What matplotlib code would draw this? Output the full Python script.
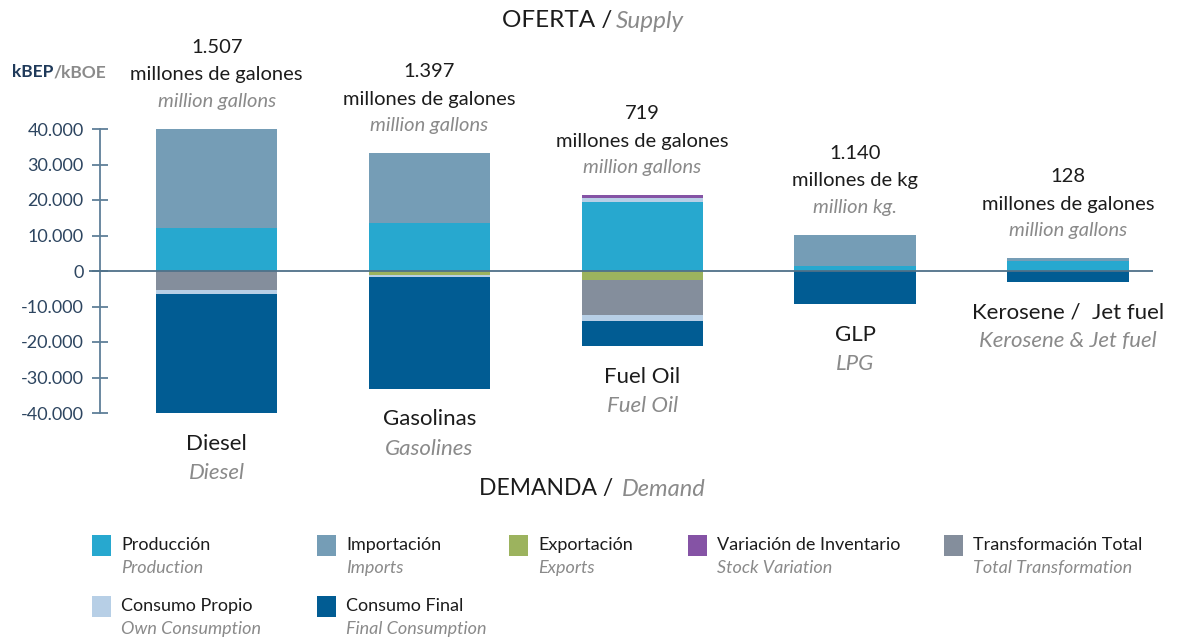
import numpy as np
import matplotlib
matplotlib.use("Agg")
import matplotlib.pyplot as plt
from matplotlib.patches import Rectangle

plt.rcParams['font.family'] = ['Lato', 'DejaVu Sans']

# --- data (kBEP / kBOE) ---
fuels_es = ['Diesel', 'Gasolinas', 'Fuel Oil', 'GLP', 'Kerosene /  Jet fuel']
fuels_en = ['Diesel', 'Gasolines', 'Fuel Oil', 'LPG', 'Kerosene & Jet fuel']
volumes = ['1.507', '1.397', '719', '1.140', '128']
units_es = ['millones de galones', 'millones de galones', 'millones de galones',
            'millones de kg', 'millones de galones']
units_en = ['million gallons', 'million gallons', 'million gallons',
            'million kg.', 'million gallons']

# supply side (stacked upward)
produccion = [12100, 13400, 19400, 1400, 2700]
consumo_propio_oferta = [0, 0, 1300, 0, 0]
variacion_inventario = [0, 0, 600, 0, 0]
importacion = [27900, 19700, 0, 8700, 900]

# demand side (stacked downward)
exportacion = [0, -1200, -2600, 0, 0]
transformacion = [-5400, 0, -9800, 0, 0]
consumo_propio = [-1200, -500, -1800, 0, 0]
consumo_final = [-33400, -31500, -7000, -9400, -3000]

c_prod = '#27a8cf'
c_imp = '#759db6'
c_exp = '#9cb35e'
c_var = '#8553a5'
c_trans = '#848e9c'
c_propio = '#b7cfe6'
c_final = '#015c93'
c_axis = '#5f7f99'
c_text = '#1c1c1c'
c_grey = '#8a8a8a'

fig = plt.figure(figsize=(11.81, 6.41), dpi=100)
ax = fig.add_axes([89 / 1181, 1 - 413 / 641, 1064 / 1181, 284 / 641])

x = np.arange(len(fuels_es))
w = 0.57

pos_series = [(produccion, c_prod), (consumo_propio_oferta, c_propio),
              (variacion_inventario, c_var), (importacion, c_imp)]
neg_series = [(exportacion, c_exp), (transformacion, c_trans),
              (consumo_propio, c_propio), (consumo_final, c_final)]

bottom = np.zeros(len(x))
for vals, col in pos_series:
    ax.bar(x, vals, w, bottom=bottom, color=col, linewidth=0, zorder=2)
    bottom += np.array(vals)
tops = bottom.copy()

bottom = np.zeros(len(x))
for vals, col in neg_series:
    ax.bar(x, vals, w, bottom=bottom, color=col, linewidth=0, zorder=2)
    bottom += np.array(vals)
bots = bottom.copy()

ax.axhline(0, color='#4f7189', lw=1.3, zorder=3)

ax.set_xlim(-0.6, 4.4)
ax.set_ylim(-40000, 40000)
for s in ['top', 'right', 'bottom']:
    ax.spines[s].set_visible(False)
ax.spines['left'].set_position(('data', -0.55))
ax.spines['left'].set_color(c_axis)
ax.spines['left'].set_linewidth(1.3)
ax.set_xticks([])
yt = np.arange(-40000, 40001, 10000)
ax.set_yticks(yt)
ax.set_yticklabels([f"{v:,.0f}".replace(",", ".") for v in yt])
ax.tick_params(axis='y', direction='inout', length=11, width=1.3, color=c_axis,
               labelcolor='#2d4560', labelsize=13, pad=6)

# labels over and under bars
for i in x:
    ax.annotate(volumes[i], (i, tops[i]), xytext=(0, 59), textcoords='offset points',
                ha='center', va='center', fontsize=14.5, color=c_text)
    ax.annotate(units_es[i], (i, tops[i]), xytext=(0, 39), textcoords='offset points',
                ha='center', va='center', fontsize=14.5, color=c_text)
    ax.annotate(units_en[i], (i, tops[i]), xytext=(0, 20), textcoords='offset points',
                ha='center', va='center', fontsize=14.5, color=c_grey, style='italic')
    ax.annotate(fuels_es[i], (i, bots[i]), xytext=(0, -22), textcoords='offset points',
                ha='center', va='center', fontsize=16, color=c_text)
    ax.annotate(fuels_en[i], (i, bots[i]), xytext=(0, -43), textcoords='offset points',
                ha='center', va='center', fontsize=16, color=c_grey, style='italic')

# headings
fig.text(612 / 1181, 1 - 21 / 641, 'OFERTA /', ha='right', va='center', fontsize=17.5, color=c_text)
fig.text(616 / 1181, 1 - 21 / 641, 'Supply', ha='left', va='center', fontsize=17.5,
         color=c_grey, style='italic')
fig.text(613 / 1181, 1 - 489 / 641, 'DEMANDA /', ha='right', va='center', fontsize=16.5, color=c_text)
fig.text(622 / 1181, 1 - 489 / 641, 'Demand', ha='left', va='center', fontsize=17,
         color=c_grey, style='italic')
fig.text(12 / 1181, 1 - 72 / 641, 'kBEP', ha='left', va='center', fontsize=12.5,
         color='#1f3a5a', weight='bold')
fig.text(53 / 1181, 1 - 72 / 641, '/kBOE', ha='left', va='center', fontsize=12.5,
         color='#8a8a8a', weight='bold')

# legend
leg_es = ['Producción', 'Importación', 'Exportación', 'Variación de Inventario',
          'Transformación Total', 'Consumo Propio', 'Consumo Final']
leg_en = ['Production', 'Imports', 'Exports', 'Stock Variation',
          'Total Transformation', 'Own Consumption', 'Final Consumption']
leg_col = [c_prod, c_imp, c_exp, c_var, c_trans, c_propio, c_final]
leg_x = [92, 317, 509, 688, 944, 92, 317]
leg_y = [545, 545, 545, 545, 545, 606, 606]
for lab_es, lab_en, col, lx, ly in zip(leg_es, leg_en, leg_col, leg_x, leg_y):
    fig.add_artist(Rectangle((lx / 1181, 1 - (ly + 11) / 641), 19 / 1181, 21 / 641,
                             transform=fig.transFigure, color=col, lw=0))
    fig.text((lx + 29) / 1181, 1 - ly / 641, lab_es, ha='left', va='center',
             fontsize=13, color=c_text)
    fig.text((lx + 29) / 1181, 1 - (ly + 23) / 641, lab_en, ha='left', va='center',
             fontsize=13, color=c_grey, style='italic')

fig.savefig('out.png', dpi=100)
